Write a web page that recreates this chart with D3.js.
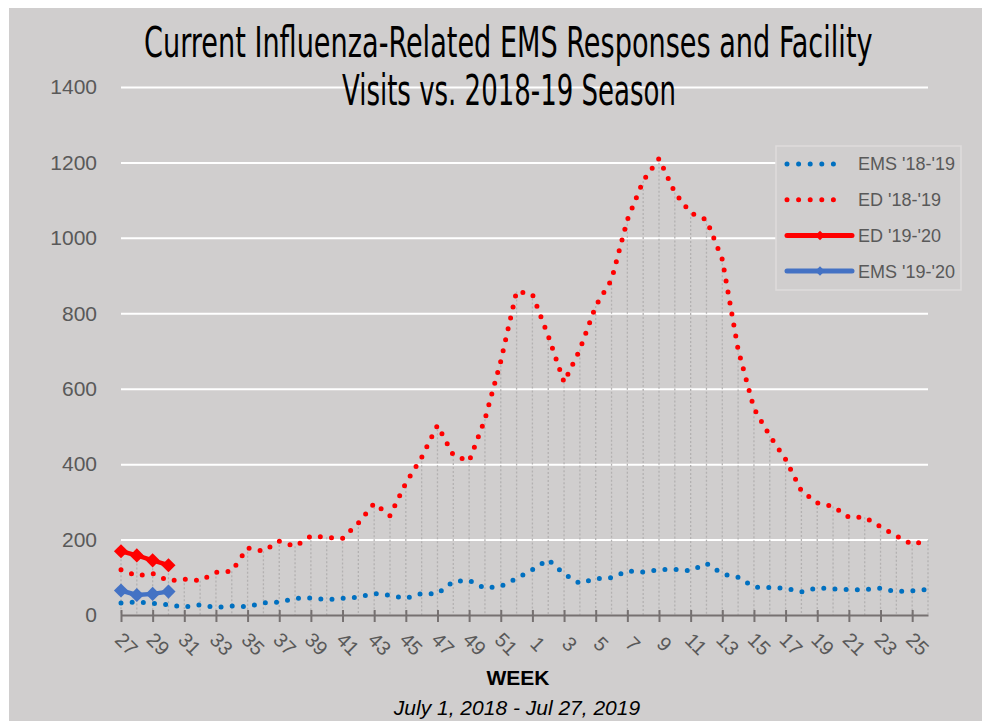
<!DOCTYPE html>
<html>
<head>
<meta charset="utf-8">
<script src="https://cdn.jsdelivr.net/npm/d3@7"></script>
<style>
  body { margin: 0; background: #fff; }
  svg { display: block; }
</style>
</head>
<body>
<svg width="990" height="721"></svg>
<script>
// week numbers, season starts at week 27
var weeks = [27, 28, 29, 30, 31, 32, 33, 34, 35, 36, 37, 38, 39, 40, 41, 42, 43, 44, 45, 46, 47, 48, 49, 50, 51, 52,
  1, 2, 3, 4, 5, 6, 7, 8, 9, 10, 11, 12, 13, 14, 15, 16, 17, 18, 19, 20, 21, 22, 23, 24, 25, 26];

var ed1819 = [120, 104, 110, 91, 95, 91, 113, 116, 178, 169, 196, 182, 209, 206, 203, 244, 296, 263, 350, 418,
  503, 424, 408, 519, 673, 858, 850, 740, 617, 704, 819, 889, 1048, 1151, 1210, 1120, 1066, 1048, 943, 704,
  548, 475, 413, 329, 297, 288, 259, 259, 234, 210, 187, 198];

var ems1819 = [32, 35, 31, 27, 21, 27, 20, 24, 22, 32, 34, 44, 45, 41, 44, 47, 57, 52, 44, 57,
  56, 89, 92, 71, 76, 97, 120, 147, 109, 84, 96, 99, 117, 114, 120, 121, 117, 137, 109, 100,
  74, 73, 71, 61, 72, 69, 67, 67, 71, 62, 64, 68];

// current season, only the first few weeks so far
var ed1920 = [169, 158, 145, 132];
var ems1920 = [65, 53, 56, 62];

var yTicks = [0, 200, 400, 600, 800, 1000, 1200, 1400];

var series = [
  { name: "EMS '18-'19", values: ems1819, color: "#0070c0", kind: "dots" },
  { name: "ED '18-'19", values: ed1819, color: "#ff0000", kind: "dots" },
  { name: "ED '19-'20", values: ed1920, color: "#ff0000", kind: "solid" },
  { name: "EMS '19-'20", values: ems1920, color: "#4472c4", kind: "solid" }
];

var svg = d3.select("svg");

// chart area background
svg.append("rect")
  .attr("x", 9).attr("y", 8)
  .attr("width", 973).attr("height", 720)
  .attr("fill", "#d0cece");

var x = d3.scalePoint().domain(weeks).range([121, 928]);
var y = d3.scaleLinear().domain([0, 1400]).range([615, 87]);

// gridlines + y labels
var yAxis = svg.append("g")
  .attr("transform", "translate(121,0)")
  .call(d3.axisLeft(y).tickValues(yTicks).tickFormat(d3.format("d"))
    .tickSize(-(928 - 121)).tickPadding(24));
yAxis.select(".domain").remove();
yAxis.selectAll(".tick line")
  .attr("stroke", "#ffffff")
  .attr("stroke-width", 2)
  .attr("opacity", function(d) { return d === 0 ? 0 : 1; });
yAxis.selectAll(".tick text")
  .attr("fill", "#595959")
  .style("font-family", "Liberation Sans, Arial, sans-serif")
  .style("font-size", "21px");

// drop lines from the highest value down to the axis
var drops = svg.append("g").attr("id", "drops");
drops.selectAll("line")
  .data(weeks)
  .enter()
  .append("line")
  .attr("x1", function(d) { return x(d); })
  .attr("x2", function(d) { return x(d); })
  .attr("y1", function(d, i) {
    var top = ed1819[i];
    if (i < ed1920.length) top = Math.max(top, ed1920[i]);
    return y(top);
  })
  .attr("y2", y(0))
  .attr("stroke", "#b3b1b1")
  .attr("stroke-width", 1.3)
  .attr("stroke-dasharray", "2,2");

// x axis
var xAxis = svg.append("g")
  .attr("transform", "translate(0," + y(0) + ")")
  .call(d3.axisBottom(x)
    .tickValues(weeks.filter(function(d, i) { return i % 2 === 0; }))
    .tickSizeInner(7).tickSizeOuter(0));
xAxis.select(".domain")
  .attr("stroke", "#767171")
  .attr("stroke-width", 2);
xAxis.selectAll(".tick line")
  .attr("y1", -5)
  .attr("stroke", "#767171")
  .attr("stroke-width", 2);
xAxis.selectAll(".tick text")
  .attr("y", 0)
  .attr("dy", "0.35em")
  .attr("text-anchor", "middle")
  .attr("transform", "translate(5,29) rotate(45)")
  .attr("fill", "#595959")
  .style("font-family", "Liberation Sans, Arial, sans-serif")
  .style("font-size", "20px");

var line = d3.line()
  .x(function(d, i) { return x(weeks[i]); })
  .y(function(d) { return y(d); });

var g = svg.append("g").attr("id", "series");

series.forEach(function(s) {
  var p = g.append("path")
    .datum(s.values)
    .attr("d", line)
    .attr("fill", "none")
    .attr("stroke", s.color)
    .attr("stroke-linecap", "round")
    .attr("stroke-linejoin", "round");
  if (s.kind === "dots") {
    p.attr("stroke-width", 5).attr("stroke-dasharray", "0,11.2");
  } else {
    p.attr("stroke-width", 4.5);
    g.selectAll(null)
      .data(s.values)
      .enter()
      .append("path")
      .attr("d", d3.symbol(d3.symbolSquare, 100))
      .attr("transform", function(d, i) {
        return "translate(" + x(weeks[i]) + "," + y(d) + ") rotate(45)";
      })
      .attr("fill", s.color);
  }
});

// legend
var legend = svg.append("g").attr("id", "legend");
legend.append("rect")
  .attr("x", 776).attr("y", 146)
  .attr("width", 185).attr("height", 144)
  .attr("fill", "#d0cece")
  .attr("stroke", "#dedcdc")
  .attr("stroke-width", 1.5);

var rows = legend.selectAll("g.row")
  .data(series)
  .enter()
  .append("g")
  .attr("class", "row")
  .attr("transform", function(d, i) { return "translate(787," + (164 + i * 35.7) + ")"; });

rows.append("line")
  .attr("x2", function(d) { return d.kind === "dots" ? 58 : 65; })
  .attr("stroke", function(d) { return d.color; })
  .attr("stroke-width", 5)
  .attr("stroke-linecap", "round")
  .attr("stroke-dasharray", function(d) { return d.kind === "dots" ? "0,11.6" : null; });

rows.filter(function(d) { return d.kind === "solid"; })
  .append("path")
  .attr("d", d3.symbol(d3.symbolSquare, 45))
  .attr("transform", "translate(33,0) rotate(45)")
  .attr("fill", function(d) { return d.color; });

rows.append("text")
  .attr("x", 71)
  .attr("dy", "0.36em")
  .attr("fill", "#595959")
  .style("font-family", "Liberation Sans, Arial, sans-serif")
  .style("font-size", "18px")
  .text(function(d) { return d.name; });

// titles, squeezed horizontally to look like the narrow original font
var titleLines = [
  { text: "Current Influenza-Related EMS Responses and Facility", x: 144, y: 57, width: 729 },
  { text: "Visits vs. 2018-19 Season", x: 342, y: 105, width: 334 }
];
svg.append("g").attr("id", "title")
  .selectAll("text")
  .data(titleLines)
  .enter()
  .append("text")
  .attr("x", 0).attr("y", 0)
  .style("font-family", "DejaVu Sans Condensed, DejaVu Sans, sans-serif")
  .style("font-size", "42px")
  .attr("fill", "#000")
  .text(function(d) { return d.text; })
  .attr("transform", function(d) {
    var w = this.getComputedTextLength();
    return "translate(" + d.x + "," + d.y + ") scale(" + (d.width / w) + ",1)";
  });

svg.append("text")
  .attr("x", 518).attr("y", 685)
  .attr("text-anchor", "middle")
  .style("font-family", "Liberation Sans, Arial, sans-serif")
  .style("font-size", "21px")
  .style("font-weight", "bold")
  .text("WEEK");

svg.append("text")
  .attr("x", 517).attr("y", 715)
  .attr("text-anchor", "middle")
  .style("font-family", "Liberation Sans, Arial, sans-serif")
  .style("font-size", "21px")
  .style("font-style", "italic")
  .text("July 1, 2018 - Jul 27, 2019");
</script>
</body>
</html>
